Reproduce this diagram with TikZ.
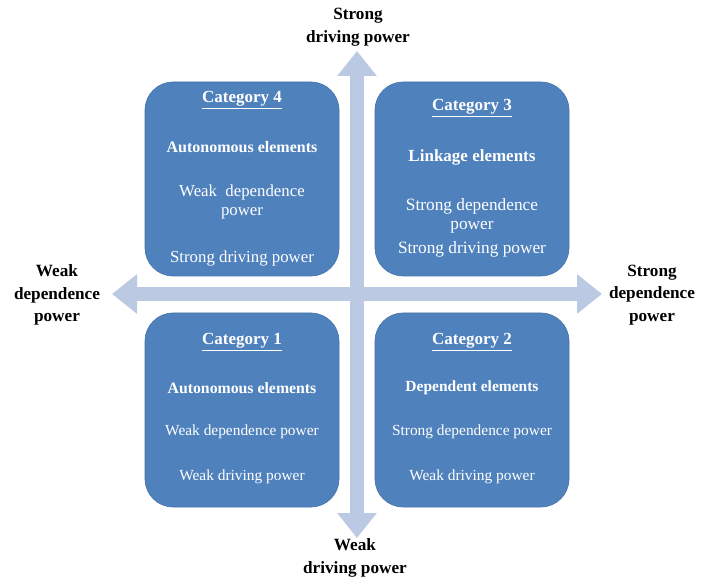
\documentclass[tikz,border=0pt]{standalone}
\usepackage{fontspec}
\setmainfont{Liberation Serif}
\usetikzlibrary{arrows.meta}
\definecolor{boxblue}{HTML}{4F81BD}
\definecolor{axisblue}{HTML}{BCC9E2}
\tikzset{
  catbox/.style={draw=boxblue!90!black, line width=0.6pt, fill=boxblue, rounded corners=28pt, minimum width=194pt, minimum height=194pt, inner sep=0pt},
  intext/.style={text=white, font=\fontsize{15.4}{18}\selectfont, align=center, inner sep=0pt},
  toptext/.style={text=white, font=\fontsize{16.8}{18.5}\selectfont, align=center, inner sep=0pt},
  inhead/.style={text=white, font=\fontsize{17}{20}\selectfont\bfseries, align=center, inner sep=0pt},
  outtext/.style={text=black, font=\fontsize{17.2}{22.5}\selectfont\bfseries, align=center, inner sep=0pt},
  axis/.style={draw=axisblue, line width=14pt, {Triangle[length=25pt,width=38pt]}-{Triangle[length=25pt,width=38pt]}}
}
\begin{document}
\begin{tikzpicture}[x=1pt,y=-1pt]
\useasboundingbox (0,0) rectangle (702,577);
% axes
\coordinate (top) at (357,51);
\coordinate (bot) at (357,538);
\coordinate (lft) at (112,294);
\coordinate (rgt) at (602,294);
\draw[axis] (top) -- (bot);
\draw[axis] (lft) -- (rgt);
% boxes
\node[catbox] (c4) at (242,179) {};
\node[catbox] (c3) at (472,179) {};
\node[catbox] (c1) at (242,410) {};
\node[catbox] (c2) at (472,410) {};
% category 4
\node[inhead] (c4h) at (242,100) {\underline{Category 4}};
\node[inhead, font=\fontsize{16}{19}\selectfont\bfseries] (c4a) at (242,147) {Autonomous elements};
\node[toptext] (c4b) at (242,202) {Weak\ \ dependence\\power};
\node[toptext] (c4c) at (242,258) {Strong driving power};
% category 3
\node[inhead] (c3h) at (472,108) {\underline{Category 3}};
\node[inhead] (c3a) at (472,157) {Linkage elements};
\node[toptext, font=\fontsize{17.3}{18.5}\selectfont] (c3b) at (472,216) {Strong dependence\\power};
\node[toptext, font=\fontsize{17.3}{18.5}\selectfont] (c3c) at (472,249) {Strong driving power};
% category 1
\node[inhead] (c1h) at (242,342) {\underline{Category 1}};
\node[inhead, font=\fontsize{15.8}{19}\selectfont\bfseries] (c1a) at (242,388) {Autonomous\ elements};
\node[intext] (c1b) at (242,432) {Weak dependence power};
\node[intext] (c1c) at (242,477) {Weak driving power};
% category 2
\node[inhead] (c2h) at (472,342) {\underline{Category 2}};
\node[inhead, font=\fontsize{15.5}{19}\selectfont\bfseries] (c2a) at (472,388) {Dependent elements};
\node[intext] (c2b) at (472,432) {Strong dependence power};
\node[intext] (c2c) at (472,477) {Weak driving power};
% outer labels
\node[outtext] (tl) at (358,27) {Strong\\driving power};
\node[outtext] (bl) at (355,558) {Weak\\driving power};
\node[outtext] (ll) at (57,295) {Weak\\dependence\\power};
\node[outtext] (rl) at (652,295) {Strong\\dependence\\power};
\end{tikzpicture}
\end{document}
